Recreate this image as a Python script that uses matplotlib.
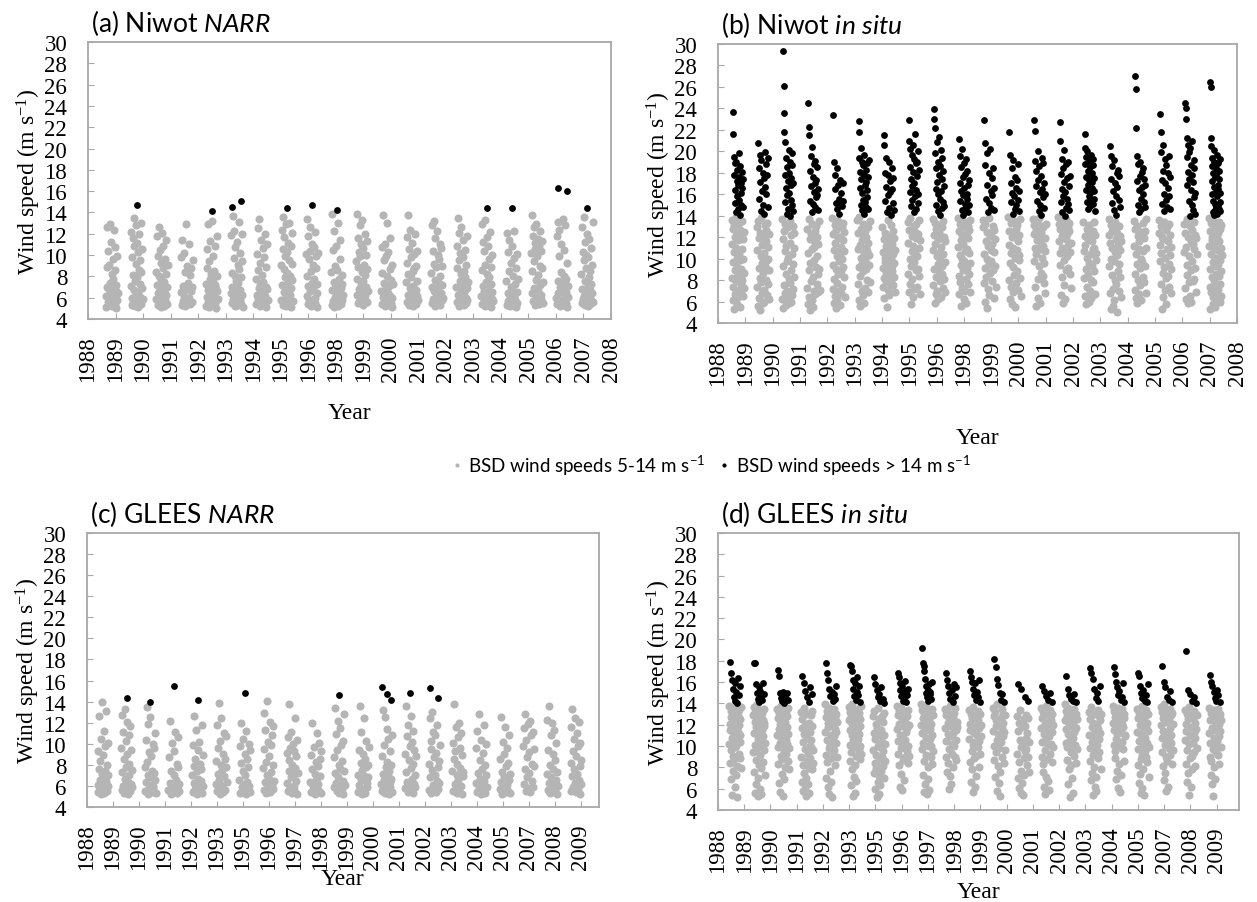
import numpy as np
import matplotlib
matplotlib.use("Agg")
import matplotlib.pyplot as plt
from matplotlib.lines import Line2D

plt.rcParams["mathtext.fontset"] = "custom"
plt.rcParams["mathtext.it"] = "Lato:italic"
plt.rcParams["mathtext.rm"] = "Lato"
plt.rcParams["mathtext.default"] = "regular"

GRAY = "#b5b5b5"
FRAME = "#a8a8a8"
SERIF = "Liberation Serif"
SANS = "Lato"

years_ab = [1988, 1989, 1990, 1991, 1992, 1993, 1994, 1995, 1996, 1998,
            1999, 2000, 2001, 2002, 2003, 2004, 2005, 2006, 2007, 2008]
years_cd = [1988, 1989, 1990, 1991, 1992, 1993, 1995, 1996, 1997, 1998,
            1999, 2000, 2001, 2002, 2003, 2004, 2005, 2007, 2008, 2009]

# ---- (a) Niwot NARR: one list of BSD wind speeds per winter ----
niwot_narr_low = [
    [6.2, 5.1, 8.9, 12.6, 7.0, 5.6, 10.4, 6.8, 5.3, 9.1, 12.9, 7.4, 5.9, 6.5, 11.2, 8.2, 5.2, 6.9, 9.6, 5.7, 7.8, 12.4, 6.1, 5.4, 8.6, 10.8, 6.6, 5.0, 7.2, 9.9, 5.8, 6.4],
    [7.1, 12.2, 5.3, 9.8, 6.0, 11.6, 5.5, 8.1, 13.5, 6.7, 10.9, 5.2, 7.6, 12.8, 6.3, 9.2, 5.8, 11.1, 7.9, 5.1, 10.3, 6.5, 8.6, 12.0, 5.6, 7.3, 9.5, 6.1, 13.0, 5.4, 8.4, 6.9, 10.6, 5.9],
    [8.4, 5.9, 11.8, 7.2, 5.3, 9.9, 6.4, 12.6, 8.0, 5.6, 10.5, 6.9, 5.1, 9.3, 7.7, 12.1, 6.1, 5.5, 8.8, 10.9, 6.6, 5.2, 7.5, 9.6, 5.8, 11.4, 6.3, 8.2, 5.4, 7.0, 9.1],
    [6.5, 9.8, 5.3, 11.4, 7.1, 5.7, 10.2, 6.2, 8.4, 5.2, 12.9, 6.8, 5.5, 9.0, 7.4, 5.9, 11.0, 6.0, 8.1, 5.4, 6.6, 8.8, 5.6, 7.0, 9.5],
    [7.3, 5.2, 10.6, 6.1, 8.8, 5.6, 12.9, 6.7, 5.1, 9.4, 7.8, 5.4, 11.3, 6.4, 8.2, 5.8, 7.0, 13.2, 6.0, 5.3, 9.9, 7.5, 5.7, 8.5, 6.3, 10.9, 5.5, 7.2, 6.8, 5.0, 8.0, 6.6, 11.8, 5.9],
    [6.4, 11.9, 5.5, 8.3, 7.0, 13.7, 5.9, 9.7, 6.6, 12.3, 5.2, 8.0, 10.8, 6.2, 7.6, 5.6, 11.2, 6.9, 9.1, 5.3, 7.4, 13.1, 6.0, 8.7, 5.8, 10.2, 6.7, 5.4, 7.9, 9.4, 6.3, 12.0, 5.1],
    [7.8, 5.4, 10.1, 6.3, 12.5, 5.9, 8.6, 6.9, 13.4, 5.2, 9.3, 7.2, 5.6, 11.4, 6.0, 8.1, 5.3, 10.7, 6.6, 7.5, 5.7, 9.8, 6.2, 12.0, 5.5, 8.9, 7.0, 5.1, 6.8, 11.0, 5.8],
    [9.1, 5.8, 12.4, 7.2, 5.3, 10.6, 13.6, 6.5, 8.7, 11.7, 5.6, 7.9, 9.9, 6.1, 12.9, 5.2, 8.3, 10.3, 6.8, 11.1, 5.5, 7.5, 9.5, 13.0, 6.3, 5.9, 8.0, 10.9, 6.9, 5.1, 12.1, 7.7, 9.2, 5.7],
    [10.1, 6.2, 13.4, 8.0, 5.4, 11.8, 7.1, 9.6, 5.8, 12.6, 6.6, 10.4, 5.2, 8.5, 7.4, 11.0, 5.6, 9.1, 6.9, 5.3, 10.8, 7.8, 6.0, 12.2, 5.5, 8.8, 9.9, 6.4, 5.1, 7.3, 10.2],
    [8.4, 5.3, 13.9, 6.7, 10.5, 5.7, 7.5, 12.3, 5.1, 9.0, 6.1, 5.5, 10.9, 7.1, 5.9, 8.6, 6.4, 13.0, 5.2, 7.8, 5.6, 9.6, 6.0, 11.4, 5.4, 6.9, 8.1, 5.8, 7.3, 6.3],
    [9.4, 6.3, 13.9, 7.8, 11.6, 5.5, 8.9, 10.3, 6.8, 12.8, 5.9, 9.9, 7.2, 11.0, 6.0, 8.4, 13.3, 5.3, 7.6, 10.7, 6.5, 9.1, 5.7, 12.0, 8.1, 6.2, 10.0, 7.0, 5.6, 8.7, 11.3, 6.6],
    [6.6, 10.8, 5.4, 8.3, 13.8, 6.1, 9.5, 5.6, 7.4, 11.0, 5.2, 6.9, 9.9, 5.9, 8.0, 13.0, 6.4, 5.3, 10.3, 7.1, 5.7, 8.7, 6.2, 11.6, 5.5, 7.7, 9.1, 6.0, 5.1, 7.3],
    [7.5, 11.7, 5.6, 9.3, 6.3, 13.8, 8.2, 5.3, 10.6, 6.9, 12.4, 5.9, 7.9, 9.8, 5.5, 6.6, 11.1, 8.5, 5.2, 7.1, 10.1, 6.0, 8.8, 5.7, 12.0, 6.7, 9.0, 5.4, 7.6, 6.2, 10.4, 5.8],
    [8.3, 5.5, 12.8, 7.0, 10.4, 5.9, 13.2, 6.6, 9.2, 5.2, 11.6, 7.7, 6.1, 8.9, 5.4, 12.3, 6.8, 10.0, 5.7, 7.4, 9.6, 6.2, 11.0, 5.3, 8.0, 6.4, 10.7, 5.8, 7.2, 9.0, 6.0],
    [7.0, 10.9, 5.6, 8.8, 13.5, 6.3, 9.5, 5.2, 12.1, 7.6, 5.9, 10.2, 6.7, 8.2, 12.6, 5.4, 7.3, 9.8, 5.7, 11.4, 6.5, 8.5, 5.3, 7.9, 10.5, 6.0, 5.5, 9.1, 6.9, 11.8, 5.8, 7.5],
    [6.2, 12.9, 5.4, 8.6, 7.1, 11.2, 5.8, 10.4, 6.6, 13.3, 5.2, 9.1, 7.5, 5.6, 11.7, 6.0, 8.2, 5.3, 10.9, 6.8, 7.9, 5.5, 9.6, 6.4, 12.2, 5.1, 7.3, 8.9, 5.9, 6.5, 10.0, 5.7],
    [7.6, 5.3, 12.1, 6.4, 10.3, 5.7, 8.5, 11.4, 6.0, 5.2, 9.3, 7.0, 5.6, 10.9, 6.7, 8.0, 5.4, 12.3, 6.2, 9.7, 5.8, 7.3, 5.1, 8.8, 6.5, 5.5, 10.1, 7.8],
    [10.2, 6.4, 13.8, 8.5, 11.8, 5.7, 12.6, 9.4, 6.9, 11.1, 5.3, 10.6, 7.7, 12.9, 6.1, 9.9, 5.6, 11.5, 8.1, 6.6, 10.9, 5.4, 12.3, 7.2, 9.0, 5.9, 10.4, 6.3, 8.8, 11.3, 7.5, 5.5],
    [6.0, 11.8, 5.4, 7.6, 13.1, 6.4, 9.9, 5.6, 12.4, 7.0, 5.2, 8.4, 6.6, 11.0, 5.8, 7.3, 13.4, 5.3, 6.9, 10.5, 5.9, 8.0, 6.2, 12.8, 5.5, 7.8, 6.5, 9.3, 5.1, 7.1, 6.1],
    [8.2, 5.5, 12.6, 6.8, 10.3, 5.9, 9.5, 13.6, 6.2, 11.2, 5.3, 7.6, 10.0, 6.5, 8.8, 5.7, 12.0, 7.1, 5.2, 9.8, 6.0, 11.5, 7.9, 5.4, 8.5, 6.7, 10.7, 5.8, 7.3, 9.1, 6.4, 13.1, 5.6],
]
niwot_narr_high = [
    [], [14.7], [], [], [14.1], [14.5, 15.1], [], [14.4], [14.7], [14.2],
    [], [], [], [], [], [14.4], [14.4], [], [16.3, 16.0], [14.4],
]

# ---- (b) Niwot in situ ----
niwot_situ_low = [
    [13.6, 8.2, 11.4, 6.1, 12.8, 9.7, 7.4, 13.1, 10.6, 5.3, 12.0, 8.9, 6.7, 11.0, 13.9, 7.9, 10.1, 5.8, 12.4, 9.2, 6.4, 11.7, 8.5, 13.3, 7.1, 10.4, 5.5, 9.9, 12.7, 7.6,
     9.0, 12.2, 7.0, 10.9, 13.5, 8.0, 11.8, 6.5, 10.0, 12.5, 8.7, 7.3],
    [12.9, 7.4, 10.8, 5.6, 13.5, 9.1, 6.3, 11.9, 8.2, 12.4, 5.2, 10.2, 7.8, 13.8, 6.8, 9.6, 11.3, 5.9, 8.7, 12.1, 7.1, 10.5, 6.0, 9.3, 13.1,
     11.6, 8.0, 12.7, 9.9, 6.6, 13.3, 10.0, 7.6, 11.1, 8.9, 12.3, 6.2],
    [13.7, 6.2, 11.8, 9.3, 5.4, 12.6, 7.5, 10.7, 6.8, 13.2, 8.6, 5.7, 11.2, 7.0, 9.8, 12.9, 6.4, 10.1, 5.9, 8.1, 13.5, 7.7, 11.5, 6.0,
     12.2, 8.9, 10.4, 6.6, 13.0, 9.5, 7.2, 11.0, 12.4, 8.3],
    [12.8, 7.3, 10.5, 5.8, 13.7, 8.9, 6.4, 11.8, 9.6, 5.2, 12.3, 7.9, 10.9, 6.1, 13.2, 8.3, 5.5, 11.1, 7.0, 9.9, 12.6, 6.7,
     11.5, 9.2, 13.0, 7.6, 10.2, 12.0, 6.9, 8.6, 11.4, 13.5, 9.0, 7.1],
    [13.8, 9.4, 7.2, 12.3, 5.9, 10.8, 8.1, 13.1, 6.5, 11.5, 9.0, 5.4, 12.7, 7.7, 10.2, 6.2, 13.5, 8.6, 11.9, 7.0, 9.8, 5.7, 12.0, 10.5, 6.8,
     11.1, 8.8, 12.9, 10.0, 7.4, 11.7, 9.2, 13.3, 8.3, 12.5, 10.7, 6.4],
    [13.6, 10.9, 7.6, 12.4, 9.2, 6.1, 13.9, 11.3, 8.4, 5.6, 12.8, 10.1, 7.0, 11.7, 9.6, 6.6, 13.2, 8.8, 12.1, 10.5, 5.9, 9.9, 7.3, 12.6, 11.0,
     12.0, 9.0, 10.7, 13.0, 8.0, 11.5, 6.9, 12.9, 9.4, 10.3, 7.8, 13.5],
    [12.9, 9.1, 10.6, 7.4, 11.8, 8.2, 6.3, 10.1, 9.7, 12.4, 7.9, 11.2, 8.7, 5.5, 10.9, 9.4, 13.6, 7.1, 11.5, 8.5, 6.6, 10.3, 9.0, 12.1, 7.7, 11.0, 8.0, 13.1,
     10.0, 8.8, 11.4, 9.3, 12.6, 7.5, 10.4, 8.3, 11.9, 9.6, 6.9, 10.8],
    [13.4, 8.6, 11.5, 6.9, 12.7, 10.0, 7.6, 13.8, 9.3, 5.8, 12.1, 10.7, 8.1, 11.2, 6.4, 13.0, 9.7, 7.2, 12.5, 10.4,
     11.9, 8.9, 13.2, 10.2, 7.4, 12.3, 9.0, 11.0, 13.6, 8.4, 6.7, 11.7],
    [13.7, 10.8, 7.5, 12.2, 9.0, 5.9, 13.3, 11.4, 8.3, 6.7, 12.8, 10.2, 7.0, 11.8, 9.5, 6.2, 13.0, 8.8, 12.5, 10.6, 7.9, 9.9, 6.4,
     11.1, 8.6, 12.9, 9.3, 13.5, 10.4, 7.3, 12.0, 8.1, 11.6, 9.7, 6.9],
    [13.8, 11.1, 8.4, 12.6, 6.7, 10.3, 13.2, 7.8, 11.7, 9.4, 5.6, 12.2, 10.0, 7.3, 13.5, 8.9, 11.4, 6.2, 12.9, 9.8, 7.0, 10.7, 5.9, 12.0, 8.1,
     12.4, 9.1, 10.9, 13.0, 7.6, 11.9, 8.6, 12.7, 10.5, 6.9, 9.6, 13.6],
    [13.6, 12.9, 10.4, 7.7, 13.2, 9.1, 6.0, 11.6, 8.3, 12.5, 10.0, 5.4, 11.2, 7.2, 13.8, 9.5, 6.6, 12.1, 8.7, 10.8,
     12.2, 9.8, 11.4, 7.9, 13.0, 8.9, 10.6, 6.3, 12.7, 9.3, 11.8, 7.4],
    [13.9, 11.3, 8.0, 12.6, 9.6, 6.2, 13.3, 10.5, 7.4, 5.8, 12.0, 9.2, 11.0, 6.9, 13.5, 8.5, 10.1, 5.5, 12.3, 7.7,
     12.8, 10.8, 8.8, 13.1, 11.6, 7.1, 12.2, 9.9, 10.3, 8.2, 13.7, 6.5],
    [13.7, 12.3, 9.8, 13.1, 11.0, 7.4, 12.7, 10.4, 5.6, 13.4, 11.7, 8.1, 6.3, 12.0, 9.3, 13.8, 10.9, 5.9, 11.4, 8.7,
     12.5, 10.1, 13.0, 8.4, 11.2, 12.9, 9.6, 7.7, 11.9, 10.7, 6.8, 13.2],
    [13.9, 13.2, 11.6, 9.4, 12.8, 10.5, 6.6, 13.5, 12.1, 8.3, 11.0, 5.9, 12.5, 9.9, 7.5, 13.0, 10.8, 6.2, 11.8, 8.9,
     13.7, 12.3, 10.2, 12.9, 11.3, 9.1, 13.3, 12.6, 10.6, 8.6, 11.5, 7.3],
    [13.4, 10.7, 8.2, 12.1, 6.5, 11.3, 9.0, 5.8, 12.8, 10.1, 7.4, 11.8, 8.6, 6.0, 13.1, 9.6, 7.0, 12.4, 10.4, 8.0, 6.3,
     11.6, 9.3, 12.6, 10.9, 7.8, 13.4, 8.8, 11.0, 12.2, 6.7, 9.9, 10.5],
    [13.7, 12.2, 9.3, 11.5, 6.8, 13.1, 10.0, 5.3, 12.6, 8.5, 11.0, 7.2, 5.6, 12.9, 9.8, 6.1, 10.6, 8.0, 13.4, 11.8, 7.6, 5.0,
     12.4, 10.3, 8.8, 11.3, 13.0, 9.5, 7.0, 12.1, 10.8, 8.3, 11.6, 6.4],
    [13.5, 11.2, 8.6, 12.8, 7.1, 10.4, 6.3, 13.0, 9.5, 5.9, 12.1, 8.0, 10.9, 6.7, 11.6, 9.1, 7.5, 12.5, 10.0, 6.1,
     12.2, 9.7, 13.3, 10.7, 8.3, 11.9, 7.8, 12.6, 9.3, 11.0, 6.8, 13.7],
    [13.6, 12.4, 9.8, 11.3, 7.6, 13.0, 10.5, 5.3, 12.0, 8.7, 6.4, 11.8, 9.2, 13.4, 7.1, 10.1, 5.8, 12.7, 8.2,
     12.9, 10.9, 8.4, 11.6, 9.5, 13.2, 7.4, 12.2, 10.3, 6.8, 11.1, 9.0],
    [13.2, 10.6, 7.3, 12.4, 6.2, 11.1, 8.5, 13.7, 9.4, 5.9, 12.0, 7.8, 10.2, 6.5, 13.0, 8.9, 11.6, 6.0,
     12.7, 9.8, 11.4, 7.9, 13.4, 10.9, 8.1, 12.2, 9.1, 11.9, 6.9, 10.4],
    [13.8, 11.2, 7.4, 12.6, 9.0, 5.3, 13.3, 10.4, 6.9, 12.0, 8.3, 11.7, 7.1, 5.8, 13.6, 9.7, 6.4, 10.9, 8.0, 12.9, 11.4, 7.7, 5.5, 10.1, 8.6, 6.2, 13.0, 9.3, 11.9, 7.0, 6.7, 12.3,
     12.4, 9.5, 7.2, 13.4, 10.7, 8.4, 11.6, 6.0, 12.8, 9.9, 7.6, 11.0, 8.8, 13.1, 6.5, 10.3],
]
niwot_situ_high = [
    [23.7, 21.6, 19.5, 17.8, 15.2, 18.9, 16.4, 14.3, 19.0, 17.2, 15.8, 18.3, 14.6, 16.9, 19.8, 15.5, 17.6, 14.1, 18.6, 16.1, 17.0, 15.0, 18.1, 16.6, 14.8, 17.4],
    [20.8, 18.4, 15.6, 19.7, 17.1, 14.4, 19.2, 16.3, 18.0, 15.0, 17.5, 14.2, 16.7, 19.9, 18.8, 16.0, 17.8, 14.8, 19.4],
    [29.3, 26.1, 23.6, 21.8, 20.9, 17.8, 15.3, 19.4, 16.6, 14.2, 18.5, 15.9, 17.2, 14.6, 20.1, 16.1, 18.0, 14.0, 19.0, 15.5, 17.5, 16.9, 18.7, 15.0, 19.8, 14.4, 17.0],
    [24.5, 22.3, 21.5, 18.2, 15.4, 19.6, 16.8, 14.3, 20.4, 17.6, 15.1, 18.8, 16.2, 14.8, 19.1, 17.0, 15.7, 17.3, 15.9, 18.5, 14.5, 16.5],
    [23.4, 19.0, 16.5, 17.8, 15.2, 18.4, 14.6, 16.9, 15.6, 14.2, 17.3, 15.0, 16.1, 14.9, 17.0, 15.4],
    [22.8, 21.8, 19.4, 16.6, 18.1, 15.0, 20.3, 17.4, 14.5, 19.0, 16.1, 18.7, 15.5, 17.8, 14.2, 19.7, 16.9, 15.3, 18.3, 14.8, 17.1, 16.4, 18.9, 15.7, 17.6, 14.6, 19.2],
    [21.5, 20.6, 18.0, 15.4, 19.4, 16.7, 14.3, 17.8, 15.9, 19.0, 14.7, 17.2, 16.2, 14.1, 18.4, 16.5, 15.2, 17.5, 14.5],
    [22.9, 21.0, 18.5, 16.2, 20.2, 17.4, 14.9, 19.7, 16.8, 15.5, 20.6, 18.1, 14.3, 17.0, 19.3, 15.8, 21.6, 16.4, 14.6, 18.9, 17.7, 19.0, 15.2, 20.0, 16.0, 18.3],
    [23.9, 23.0, 22.2, 19.8, 16.5, 18.4, 15.0, 20.9, 17.1, 14.4, 19.0, 16.0, 21.3, 17.8, 14.1, 18.6, 15.6, 20.1, 16.3, 14.7, 17.4, 19.4, 15.3, 18.2, 16.8, 14.9],
    [21.1, 19.6, 17.0, 15.4, 18.5, 16.3, 14.5, 20.2, 17.6, 15.9, 14.1, 18.9, 16.6, 15.1, 17.9, 14.8, 19.3, 16.0, 18.2, 15.6, 16.9, 14.3, 17.3, 15.0],
    [22.9, 20.8, 18.7, 15.6, 19.8, 16.9, 14.3, 18.0, 15.2, 20.2, 16.3, 14.7, 17.5, 15.9, 18.4, 14.5, 16.6],
    [21.8, 19.7, 17.0, 15.3, 18.4, 16.1, 14.2, 19.2, 15.8, 17.6, 14.6, 16.6, 15.0, 17.3, 15.5, 18.8, 14.4, 16.3],
    [22.9, 21.9, 19.1, 16.8, 18.2, 15.4, 20.0, 17.3, 14.4, 18.6, 16.2, 15.0, 17.7, 14.1, 19.4, 16.5, 18.9, 15.7, 17.0, 14.7, 16.0],
    [22.7, 21.0, 17.9, 15.3, 19.3, 16.5, 14.3, 18.4, 15.8, 20.1, 17.1, 14.0, 16.2, 18.8, 14.7, 15.6, 17.5, 15.1, 19.0, 16.8, 14.5, 17.7],
    [21.6, 20.3, 18.8, 16.4, 19.5, 17.6, 15.3, 20.0, 18.2, 16.9, 14.6, 19.1, 17.3, 15.8, 18.5, 16.1, 14.9, 19.7, 17.9, 15.5, 18.0, 16.6, 17.1, 19.3, 15.1, 18.7, 16.3, 17.5, 15.6, 14.4],
    [20.5, 19.6, 17.4, 15.2, 18.6, 16.3, 14.5, 19.2, 17.0, 15.8, 14.1, 18.0, 16.7, 18.3, 15.5, 17.7, 14.8],
    [27.0, 25.8, 22.2, 19.6, 17.2, 15.0, 18.8, 16.4, 14.3, 19.0, 17.7, 15.6, 14.6, 18.1, 16.7, 16.0, 18.4, 15.3, 17.4, 14.8, 16.9],
    [23.5, 21.8, 19.9, 17.3, 15.1, 20.6, 18.2, 16.0, 14.4, 19.3, 17.0, 15.5, 18.7, 14.8, 16.6, 18.0, 15.8, 19.6, 14.6, 17.6],
    [24.5, 24.0, 23.0, 21.2, 19.5, 16.9, 20.6, 18.1, 15.4, 19.9, 17.4, 14.0, 20.3, 16.4, 18.7, 15.0, 21.0, 17.8, 14.5, 17.1, 19.2, 15.7, 18.4, 16.1, 14.2],
    [26.5, 26.0, 21.2, 20.5, 18.6, 16.0, 19.4, 17.2, 14.3, 18.0, 15.4, 20.1, 16.7, 14.1, 19.0, 17.6, 15.1, 14.5, 18.4, 16.3, 14.8, 17.8, 15.8, 14.2, 19.7, 16.9, 15.0, 18.9, 16.5, 18.2, 14.6, 17.4, 15.3, 19.3, 14.4, 16.1],
]

# ---- (c) GLEES NARR ----
glees_narr_low = [
    [6.1, 9.3, 5.4, 7.6, 12.6, 5.9, 8.4, 6.6, 10.5, 5.2, 7.1, 14.0, 6.3, 8.9, 5.7, 11.2, 6.8, 5.3, 9.8, 7.4, 5.8, 13.1, 6.5, 8.0, 5.5, 10.1, 7.0, 6.0],
    [9.6, 5.6, 12.7, 7.3, 6.0, 11.1, 8.6, 5.3, 13.3, 6.7, 10.3, 7.8, 5.8, 9.0, 12.1, 6.4, 5.2, 8.1, 10.8, 7.0, 5.5, 11.7, 6.2, 9.4, 5.9, 7.5],
    [7.8, 5.5, 10.4, 6.4, 13.5, 8.3, 5.2, 7.0, 11.9, 6.1, 9.2, 5.7, 12.5, 6.8, 8.8, 5.4, 7.4, 10.0, 6.0, 5.8, 9.6, 7.2, 11.0, 6.6, 5.3],
    [5.6, 8.7, 6.3, 12.2, 5.2, 7.4, 10.1, 6.0, 5.4, 9.3, 7.0, 5.8, 11.1, 6.6, 8.1, 5.3, 7.8, 10.6, 6.2, 5.5],
    [7.0, 5.4, 9.9, 6.3, 12.6, 7.9, 5.7, 8.6, 6.1, 11.3, 5.2, 7.4, 9.4, 6.7, 5.5, 10.2, 8.1, 5.9, 6.5, 7.6, 11.8, 5.3, 8.9, 6.0],
    [8.4, 6.2, 11.8, 5.5, 9.6, 7.1, 13.9, 6.6, 5.2, 10.3, 8.0, 5.8, 12.4, 7.5, 6.0, 9.0, 5.4, 11.0, 6.9, 8.6, 5.6, 7.8, 10.7, 6.4],
    [6.6, 9.8, 5.3, 8.2, 12.0, 5.9, 7.4, 10.5, 6.1, 5.5, 9.0, 7.0, 5.2, 11.2, 6.4, 8.6, 5.7, 7.8, 10.0, 6.0, 5.4, 9.4],
    [7.7, 12.9, 5.6, 9.5, 6.4, 11.3, 8.3, 5.3, 14.1, 7.0, 10.2, 5.9, 8.8, 6.7, 12.1, 5.4, 9.9, 7.3, 6.1, 10.8, 5.7, 8.0, 11.7, 6.5],
    [9.1, 6.3, 10.6, 5.5, 8.5, 7.4, 13.8, 5.9, 9.6, 6.8, 11.1, 5.3, 8.0, 7.0, 10.0, 6.0, 9.3, 5.6, 12.4, 7.7, 6.5, 8.8, 5.2, 10.4, 7.2],
    [6.4, 8.9, 5.4, 7.6, 12.0, 6.0, 5.6, 9.7, 7.1, 5.2, 8.3, 6.6, 11.0, 5.8, 7.9, 6.2, 10.1, 5.5, 8.6, 6.9, 5.3, 9.3],
    [8.7, 5.9, 13.4, 7.2, 10.9, 6.3, 5.5, 9.4, 12.2, 6.8, 8.0, 5.3, 11.5, 7.6, 6.0, 9.9, 5.7, 8.4, 10.3, 6.5, 5.2, 7.4, 12.8, 6.1],
    [7.0, 5.4, 9.4, 6.1, 13.6, 5.8, 8.2, 6.6, 11.1, 5.2, 7.5, 9.0, 5.6, 12.4, 6.9, 8.6, 5.3, 7.8, 10.3, 6.3, 5.9, 8.0, 6.8, 9.7],
    [6.2, 8.8, 5.5, 13.2, 7.1, 5.8, 9.9, 6.6, 12.5, 5.3, 7.8, 6.0, 11.4, 8.3, 5.6, 6.9, 10.5, 5.2, 7.4, 9.3, 6.4, 5.9, 8.0, 6.7, 10.8, 5.4],
    [9.0, 5.8, 13.6, 7.3, 10.7, 6.4, 5.4, 11.8, 8.5, 6.0, 9.8, 5.6, 12.6, 7.7, 6.7, 10.2, 5.3, 8.1, 11.2, 6.2, 9.4, 5.9, 7.0, 8.8],
    [8.1, 5.6, 12.4, 6.8, 10.3, 5.3, 9.5, 7.5, 13.0, 6.1, 11.1, 5.9, 8.7, 7.0, 10.8, 5.4, 9.1, 6.5, 11.8, 7.8, 5.7, 8.4, 6.3, 9.9],
    [7.4, 10.1, 5.5, 8.6, 13.8, 6.2, 9.3, 5.8, 11.6, 7.0, 5.3, 8.1, 10.6, 6.6, 12.0, 5.6, 7.7, 9.6, 6.0, 11.0, 5.2, 8.9, 6.9, 7.3],
    [6.3, 9.6, 5.4, 11.2, 7.2, 5.8, 12.8, 6.7, 8.5, 5.2, 10.4, 7.6, 6.0, 9.1, 5.5, 11.8, 6.5, 8.0, 5.3, 7.0, 10.0, 5.9],
    [5.7, 8.6, 6.4, 12.5, 5.2, 7.3, 10.2, 5.9, 9.0, 6.8, 11.6, 5.4, 7.9, 6.1, 9.6, 5.5, 8.2, 6.6, 10.8, 5.3, 7.1],
    [9.8, 6.2, 11.5, 7.6, 12.8, 5.5, 10.4, 8.7, 6.8, 11.9, 5.8, 9.2, 7.2, 12.2, 5.4, 10.8, 8.1, 6.5, 11.1, 5.9, 9.5, 7.9],
    [7.1, 12.3, 5.6, 9.4, 6.3, 13.6, 8.0, 5.3, 10.8, 6.8, 5.9, 12.0, 7.6, 5.4, 9.0, 6.1, 11.3, 5.7, 8.5, 6.6, 10.1, 5.2, 7.3, 6.0],
    [8.2, 5.5, 11.6, 6.9, 13.3, 9.3, 5.9, 10.5, 7.6, 6.3, 12.4, 5.4, 8.8, 7.1, 11.0, 5.7, 9.8, 6.6, 12.1, 7.9, 5.2, 10.1, 6.2, 8.5],
]
glees_narr_high = [
    [], [14.3], [14.0], [15.5], [14.2], [], [14.8], [], [], [], [14.6],
    [], [15.4, 14.7, 14.2], [14.8], [15.3, 14.3], [], [], [], [], [], [],
]

# ---- (d) GLEES in situ ----
glees_situ_low = [
    [13.8, 10.2, 12.1, 8.4, 11.5, 13.3, 9.6, 6.9, 12.7, 10.8, 5.4, 11.9, 9.1, 13.6, 7.7, 10.5, 12.4, 8.8, 11.1, 6.2, 13.0, 9.9, 12.2, 10.0, 7.3, 11.7, 5.2, 13.1, 8.1,
     12.9, 10.6, 11.3, 9.3, 13.4, 12.0, 10.4, 8.9, 12.5, 11.0, 7.9, 13.7],
    [12.9, 9.4, 13.7, 11.2, 7.6, 12.3, 10.1, 5.6, 13.2, 8.7, 11.8, 6.4, 12.6, 9.8, 13.9, 10.7, 7.0, 11.4, 5.3, 12.0, 8.2, 13.4, 9.2, 10.4, 6.0, 11.0, 12.8, 7.9, 5.5,
     11.5, 13.1, 9.9, 12.4, 10.9, 8.5, 13.5, 11.9, 9.6, 12.2, 10.3, 7.3],
    [13.5, 11.0, 8.3, 12.6, 9.9, 13.1, 6.5, 11.6, 10.3, 12.1, 5.7, 9.1, 13.8, 10.8, 7.4, 12.4, 8.8, 11.3, 5.3, 13.0, 9.5, 6.9, 11.9, 10.0, 8.0, 12.9,
     12.3, 10.6, 13.3, 9.3, 11.8, 12.8, 10.2, 8.6, 13.6, 11.1, 9.8, 7.8],
    [13.2, 9.0, 11.7, 6.6, 12.5, 8.2, 10.4, 5.8, 13.6, 7.5, 11.1, 6.1, 9.7, 12.0, 7.0, 5.3, 10.8, 8.6, 13.0, 6.4, 11.4, 9.3, 5.6, 7.9,
     12.2, 10.0, 11.3, 8.9, 12.9, 9.9, 10.6, 7.8, 11.9, 13.3, 8.4, 9.6],
    [13.9, 11.3, 9.2, 12.7, 7.0, 10.6, 13.3, 8.5, 11.8, 6.2, 12.2, 9.8, 5.5, 13.6, 10.1, 7.7, 12.9, 8.9, 11.0, 6.6, 10.4, 13.1, 5.2, 9.5, 12.4,
     12.0, 10.9, 13.5, 9.6, 11.6, 12.6, 8.2, 10.3, 13.0, 11.3, 9.0, 12.3],
    [13.7, 12.4, 10.1, 13.2, 8.6, 11.5, 12.8, 9.4, 6.3, 13.9, 11.0, 7.8, 12.1, 10.6, 5.3, 13.4, 9.9, 11.8, 7.1, 12.6, 8.2, 10.9, 5.6, 13.0, 9.1, 11.3, 6.7, 12.3, 10.3,
     12.0, 13.5, 10.7, 11.7, 12.9, 9.6, 13.1, 11.1, 10.0, 12.5, 8.8, 11.9, 13.8, 9.3],
    [12.8, 9.6, 11.2, 7.5, 13.3, 8.4, 10.7, 6.0, 12.1, 7.9, 9.2, 5.2, 11.7, 8.1, 6.6, 13.6, 10.0, 7.2, 5.5, 12.5, 8.8, 9.9, 6.3, 11.0, 7.7,
     11.5, 9.0, 12.8, 10.4, 8.1, 12.3, 9.5, 11.0, 13.1, 7.0, 10.2, 8.6],
    [13.8, 11.6, 9.3, 12.9, 10.5, 13.3, 8.2, 12.1, 6.2, 11.0, 13.6, 9.8, 7.4, 12.5, 10.9, 5.9, 13.1, 8.7, 11.9, 10.2, 6.8, 12.7, 9.0,
     12.3, 10.6, 13.0, 11.3, 9.5, 12.8, 11.7, 8.4, 13.4, 10.0, 12.0, 9.1],
    [13.9, 12.0, 9.7, 13.4, 11.2, 7.3, 12.6, 10.3, 5.7, 13.1, 8.6, 11.8, 6.4, 12.3, 9.2, 13.7, 10.8, 5.5, 11.5, 8.0, 12.8, 6.9, 10.0, 5.9,
     12.5, 10.7, 13.2, 11.6, 9.0, 12.1, 10.0, 13.5, 11.0, 8.3, 12.9, 9.5],
    [13.5, 11.7, 9.0, 12.9, 10.5, 7.6, 13.2, 12.2, 8.4, 11.1, 6.0, 12.6, 9.7, 13.8, 10.9, 7.2, 11.9, 6.4, 12.4, 9.3, 10.2, 8.0,
     12.7, 11.2, 13.1, 10.0, 12.0, 9.0, 13.6, 11.5, 10.6, 8.7, 12.3, 11.8],
    [13.4, 10.7, 12.1, 8.5, 11.5, 6.6, 13.0, 9.5, 12.6, 7.8, 10.1, 5.7, 13.7, 11.2, 8.9, 12.3, 6.2, 10.4, 9.1, 11.8, 7.2,
     12.8, 11.0, 13.3, 9.9, 12.4, 10.5, 8.0, 11.7, 13.0, 9.3, 12.0, 10.9],
    [13.6, 11.4, 8.7, 12.8, 10.0, 13.2, 7.1, 11.9, 9.4, 12.4, 5.8, 10.6, 13.9, 8.1, 11.1, 6.5, 12.1, 9.8, 5.3, 10.9, 7.6,
     12.6, 10.4, 13.5, 11.7, 9.0, 12.2, 10.9, 13.0, 8.4, 11.3, 12.9, 9.6],
    [12.8, 9.3, 11.4, 7.0, 12.2, 8.5, 6.1, 10.6, 13.4, 5.6, 9.9, 7.7, 11.8, 6.5, 10.2, 5.4, 8.9, 12.5, 7.3, 9.5,
     11.9, 9.7, 12.9, 10.8, 8.2, 11.2, 12.6, 9.0, 10.4, 7.6],
    [13.6, 11.7, 9.0, 12.6, 10.4, 7.6, 13.2, 8.3, 11.1, 6.2, 12.1, 9.6, 5.5, 13.8, 10.8, 7.1, 12.3, 8.8, 11.5, 6.7, 10.1, 5.9,
     12.9, 10.9, 13.4, 11.9, 9.3, 12.4, 10.2, 11.3, 8.5, 13.0, 9.9, 12.0],
    [13.9, 12.4, 10.3, 13.3, 11.6, 8.7, 12.8, 9.9, 6.4, 13.6, 11.1, 7.8, 12.1, 10.6, 5.2, 13.1, 9.4, 11.9, 8.2, 12.6, 7.0, 10.0, 5.6,
     12.2, 10.8, 13.5, 11.3, 9.1, 12.9, 10.1, 11.7, 8.4, 13.0, 12.5, 9.7],
    [13.2, 11.0, 8.6, 12.5, 9.8, 6.8, 13.7, 10.4, 7.5, 11.8, 5.4, 12.2, 9.2, 8.0, 10.9, 6.2, 13.0, 11.4, 7.1, 9.6, 5.8,
     12.0, 10.1, 13.4, 11.6, 8.9, 12.8, 10.7, 9.4, 11.2, 12.4, 7.8, 13.0],
    [13.8, 12.2, 10.1, 13.3, 11.5, 8.9, 12.7, 9.5, 6.9, 13.1, 10.7, 7.7, 12.0, 11.1, 6.1, 13.6, 9.9, 8.3, 12.4, 10.4, 5.7, 11.8, 7.3,
     12.9, 11.3, 13.5, 10.4, 12.1, 9.7, 11.8, 13.0, 8.6, 12.6, 10.9, 11.0],
    [13.5, 11.3, 8.2, 12.6, 9.7, 6.5, 13.1, 10.5, 7.4, 12.0, 5.6, 11.0, 8.8, 13.8, 9.2, 6.1, 12.3, 10.0, 7.8, 5.4, 11.6, 9.5,
     12.8, 10.8, 13.4, 11.8, 9.0, 12.2, 10.3, 8.5, 11.4, 13.0, 9.9, 7.1],
    [13.7, 12.0, 9.4, 13.2, 10.8, 8.1, 12.6, 11.4, 6.8, 13.9, 10.1, 7.5, 12.3, 9.0, 5.8, 11.1, 13.4, 8.6, 10.5, 6.2, 12.8, 9.8,
     12.4, 10.6, 13.5, 11.7, 9.2, 12.9, 10.3, 11.0, 8.3, 13.1, 9.6, 12.1],
    [13.4, 10.6, 12.1, 8.3, 11.4, 6.6, 13.0, 9.6, 12.5, 7.5, 10.2, 5.4, 13.7, 11.0, 8.9, 12.8, 6.2, 10.9, 9.1, 7.8, 11.8,
     12.6, 10.3, 13.3, 11.2, 9.4, 12.2, 10.8, 8.1, 13.0, 11.6, 9.8, 12.9],
    [13.6, 11.2, 9.0, 12.4, 10.3, 7.3, 13.1, 8.6, 11.7, 6.4, 12.8, 9.7, 5.3, 10.8, 13.4, 8.0, 11.5, 6.9, 12.1, 9.4, 10.1,
     12.7, 10.5, 13.5, 11.9, 9.2, 12.1, 10.9, 8.3, 13.0, 11.4, 9.9, 12.4],
]
glees_situ_high = [
    [17.9, 16.9, 16.2, 15.4, 14.6, 15.9, 14.2, 15.1, 14.0, 16.4, 14.8, 15.6],
    [17.8, 17.8, 15.8, 15.0, 14.4, 15.5, 14.1, 15.2, 14.7, 14.3, 15.9, 14.9],
    [17.1, 16.6, 15.0, 14.5, 14.2, 15.1, 14.0, 14.8, 14.4, 15.0, 14.3],
    [16.6, 15.9, 15.2, 14.6, 14.1, 15.5, 14.9],
    [17.8, 16.9, 16.2, 15.4, 14.7, 15.1, 14.2, 14.9, 14.4, 15.6],
    [17.6, 17.5, 17.0, 16.2, 15.4, 14.7, 15.9, 14.3, 15.1, 16.5, 14.8, 15.6, 14.1],
    [16.5, 15.8, 15.3, 14.6, 14.9, 14.2, 15.5, 14.4, 14.0],
    [16.9, 16.5, 15.9, 15.3, 14.7, 15.6, 14.2, 15.0, 14.5, 16.1, 14.1, 15.2, 14.8, 15.4],
    [19.2, 17.8, 17.5, 17.0, 16.3, 15.6, 15.0, 14.6, 15.3, 14.2, 15.8, 14.9, 15.1, 14.4, 16.0],
    [16.9, 16.2, 15.6, 15.0, 14.4, 15.3, 14.1, 15.8, 14.7, 15.5],
    [17.0, 16.5, 16.0, 15.4, 14.8, 15.9, 14.3, 15.1, 14.6, 16.2, 14.1],
    [18.2, 17.4, 16.3, 15.7, 15.0, 14.3, 14.9, 14.1],
    [15.8, 15.4, 14.6, 14.2],
    [15.6, 15.2, 14.7, 14.3, 15.0, 14.1],
    [16.6, 15.4, 14.8, 14.4, 14.2, 14.9, 14.1],
    [17.3, 16.9, 16.3, 15.4, 14.5, 15.0, 14.2, 15.6],
    [17.4, 16.8, 16.0, 15.5, 14.8, 15.2, 14.3, 14.6, 15.9, 14.1],
    [16.9, 16.6, 15.6, 15.0, 14.5, 15.3, 14.2, 14.8, 14.1, 15.8],
    [17.5, 16.0, 15.5, 14.6, 14.3, 15.2, 14.1],
    [18.9, 15.3, 14.9, 14.2, 14.6, 14.0],
    [16.7, 16.0, 15.6, 15.1, 14.5, 14.2, 15.3, 14.8, 14.1],
]


def season_x(center, n, width):
    # spread a winter's events across its season window
    if n == 1:
        return np.array([center])
    return np.linspace(center - width / 2, center + width / 2, n)


def draw_panel(rect, low, high, first, step, width, years, xmax,
               site, source, xlabel_pad):
    ax = fig.add_axes(rect)
    for k, (lo, hi) in enumerate(zip(low, high)):
        c = first + step * k
        ax.scatter(season_x(c, len(lo), width), lo, s=34, color=GRAY,
                   linewidths=0, zorder=2)
        if hi:
            ax.scatter(season_x(c, len(hi), width * 0.8), hi, s=24,
                       color="black", linewidths=0, zorder=3)
    ax.set_xlim(0, xmax)
    ax.set_ylim(4, 30)
    ax.set_yticks(np.arange(4, 31, 2))
    ax.set_xticks(np.arange(len(years)))
    ax.set_xticklabels([str(y) for y in years], rotation=90)
    ax.tick_params(direction="in", length=4, color=FRAME, labelsize=16.5)
    ax.tick_params(axis="x", pad=12)
    ax.tick_params(axis="y", pad=15)
    for lab in ax.get_xticklabels() + ax.get_yticklabels():
        lab.set_fontfamily(SERIF)
    for sp in ax.spines.values():
        sp.set_color(FRAME)
        sp.set_linewidth(1.3)
    ax.set_ylabel("Wind speed (m s$^{-1}$)", family=SERIF, fontsize=17,
                  labelpad=1)
    ax.set_xlabel("Year", family=SERIF, fontsize=17, labelpad=xlabel_pad)
    ax.text(0.005, 1.04, site + " $\\mathit{" + source + "}$",
            transform=ax.transAxes, family=SANS, fontsize=19,
            ha="left", va="baseline")
    return ax


fig = plt.figure(figsize=(12.57, 9.03), dpi=100)

draw_panel([0.0700, 0.6456, 0.4161, 0.3068], niwot_narr_low, niwot_narr_high,
           0.862, 0.909, 0.42, years_ab, 19, "(a) Niwot", "NARR", 15)
draw_panel([0.5712, 0.6412, 0.4129, 0.3090], niwot_situ_low, niwot_situ_high,
           0.73, 0.92, 0.46, years_ab, 19, "(b) Niwot", "in\\ situ", 30)
draw_panel([0.0692, 0.1052, 0.4073, 0.3034], glees_narr_low, glees_narr_high,
           0.615, 0.91, 0.42, years_cd, 19.7, "(c) GLEES", "NARR", -1)
draw_panel([0.5712, 0.1019, 0.4145, 0.3068], glees_situ_low, glees_situ_high,
           0.65, 0.914, 0.46, years_cd, 19.85, "(d) GLEES", "in\\ situ", 6)

handles = [
    Line2D([], [], ls="none", marker="o", ms=3, color=GRAY, mec="none"),
    Line2D([], [], ls="none", marker="o", ms=3, color="black", mec="none"),
]
fig.legend(handles,
           ["BSD wind speeds 5-14 m s$^{-1}$", "BSD wind speeds > 14 m s$^{-1}$"],
           loc="center", bbox_to_anchor=(0.565, 0.4845), ncol=2, frameon=False,
           prop={"family": SANS, "size": 13.5}, handletextpad=0.2,
           columnspacing=0.6, handlelength=0.8)

fig.savefig("out.png", dpi=100)
